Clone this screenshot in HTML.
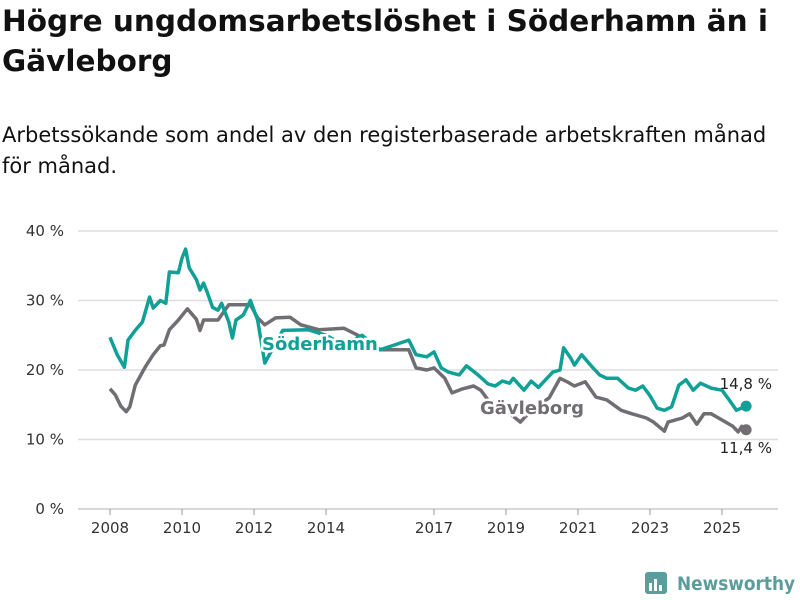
<!DOCTYPE html>
<html><head><meta charset="utf-8">
<style>
body{margin:0;width:800px;height:600px;background:#fff;font-family:"DejaVu Sans","Liberation Sans",sans-serif;color:#111;overflow:hidden;position:relative}
h1{position:absolute;left:2px;top:1px;margin:0;font-size:29.5px;line-height:40px;font-weight:bold;width:790px}
.sub{position:absolute;left:2px;top:120px;margin:0;font-size:21px;line-height:31px;width:790px}
svg{position:absolute;left:0;top:0}
</style></head><body>
<h1>Högre ungdomsarbetslöshet i Söderhamn än i Gävleborg</h1>
<p class="sub">Arbetssökande som andel av den registerbaserade arbetskraften månad för månad.</p>
<svg width="800" height="600">
<g id="grid"></g>
<g id="xt"></g>
<g id="lines"></g>
<g>
<rect x="645" y="572" width="22" height="22" rx="3" fill="#5a9d9b"/>
<rect x="649" y="583" width="3" height="8" fill="#fff"/><rect x="654" y="579" width="3" height="12" fill="#fff"/><rect x="659" y="585" width="3" height="6" fill="#fff"/>
<text x="677" y="590" font-size="19" font-weight="bold" fill="#5a9d9b" textLength="118" lengthAdjust="spacingAndGlyphs">Newsworthy</text>
</g>
</svg>
<script>
const yTicks=[0,10,20,30,40];
const xTickYears=[2008,2010,2012,2014,2017,2019,2021,2023,2025];
const sodX=[2008.0,2008.2,2008.4,2008.5,2008.7,2008.9,2009.1,2009.2,2009.4,2009.55,2009.65,2009.9,2010.0,2010.1,2010.2,2010.4,2010.5,2010.6,2010.7,2010.85,2011.0,2011.1,2011.3,2011.4,2011.5,2011.7,2011.9,2012.1,2012.3,2012.5,2012.8,2013.5,2014.0,2014.5,2015.0,2015.5,2015.9,2016.3,2016.5,2016.8,2017.0,2017.2,2017.4,2017.7,2017.9,2018.2,2018.5,2018.7,2018.9,2019.1,2019.2,2019.5,2019.7,2019.9,2020.3,2020.5,2020.6,2020.8,2020.9,2021.1,2021.4,2021.6,2021.8,2022.1,2022.4,2022.6,2022.8,2023.0,2023.2,2023.4,2023.6,2023.8,2024.0,2024.2,2024.4,2024.7,2025.0,2025.2,2025.4,2025.67];
const sodV=[24.7,22.2,20.4,24.3,25.7,26.9,30.5,28.9,30,29.6,34.1,34,36.1,37.4,34.7,33,31.5,32.5,31.2,29,28.6,29.6,26.9,24.6,27.2,27.9,30,27.2,21,22.9,25.7,25.8,25,23.6,25,22.9,23.6,24.3,22.2,21.9,22.6,20.3,19.7,19.3,20.6,19.4,18,17.7,18.4,18.1,18.8,17.1,18.4,17.5,19.7,20,23.2,21.7,20.7,22.2,20.4,19.3,18.8,18.8,17.4,17.1,17.7,16.3,14.5,14.2,14.7,17.8,18.6,17.1,18.1,17.4,17.1,15.7,14.2,14.8];
const gavX=[2008.0,2008.15,2008.3,2008.45,2008.55,2008.7,2008.9,2009.0,2009.2,2009.4,2009.5,2009.65,2009.9,2010.15,2010.4,2010.5,2010.6,2011.0,2011.3,2011.6,2011.9,2012.1,2012.3,2012.6,2013.0,2013.3,2013.8,2014.5,2015.0,2015.5,2016.0,2016.3,2016.5,2016.8,2017.0,2017.3,2017.5,2017.8,2018.1,2018.3,2018.5,2019.0,2019.4,2019.7,2020.2,2020.5,2020.7,2020.9,2021.2,2021.5,2021.8,2022.2,2022.5,2022.9,2023.1,2023.4,2023.5,2023.9,2024.1,2024.3,2024.5,2024.7,2025.0,2025.3,2025.45,2025.55,2025.67];
const gavV=[17.3,16.4,14.8,14,14.7,17.8,19.7,20.6,22.2,23.5,23.6,25.8,27.2,28.8,27.3,25.7,27.2,27.2,29.4,29.4,29.4,27.5,26.5,27.5,27.6,26.5,25.8,26,24.7,22.9,22.9,22.9,20.3,20,20.3,18.8,16.7,17.3,17.7,17.1,15.7,14.2,12.5,14.2,16,18.8,18.3,17.7,18.3,16.1,15.7,14.2,13.7,13.1,12.5,11.2,12.5,13.1,13.7,12.2,13.7,13.7,12.8,11.9,11.1,11.9,11.4];
const NS="http://www.w3.org/2000/svg";
const X=t=>110+(t-2008)*36;
const Y=v=>509-v*6.95;
function mk(tag,attrs,parent,txt){const e=document.createElementNS(NS,tag);for(const k in attrs)e.setAttribute(k,attrs[k]);if(txt!==undefined)e.textContent=txt;parent.appendChild(e);return e;}
const grid=document.getElementById('grid');
yTicks.forEach(v=>{
 const l=mk('line',{x1:78,x2:778,y1:Y(v),y2:Y(v),stroke:v===0?'#ccc':'#ddd','stroke-width':1.5},grid);
 
 
 const t=mk('text',{x:64,y:Y(v)+5,'text-anchor':'end','font-size':15,fill:'#333'},grid,v+' %');
 
 
});
const xt=document.getElementById('xt');
xTickYears.forEach(yr=>{
 const x=X(yr);
 mk('line',{x1:x,x2:x,y1:509,y2:515,stroke:'#999','stroke-width':1},xt);
 const t=mk('text',{x:x,y:533,'text-anchor':'middle','font-size':15,fill:'#333'},xt,String(yr));
 
 
});
const lines=document.getElementById('lines');
function series(xs,vs,color,name){
 const d=xs.map((x,i)=>(i?'L':'M')+X(x).toFixed(1)+','+Y(vs[i]).toFixed(1)).join('');
 const p=mk('path',{d:d,fill:'none',stroke:color,'stroke-width':3.5,'stroke-linejoin':'round'},lines);
 
 
 const n=xs.length-1;
 const c=mk('circle',{cx:X(xs[n]),cy:Y(vs[n]),r:5.5,fill:color},lines);
 
 
 return [X(xs[n]),Y(vs[n]),vs[n]];
}
const g=series(gavX,gavV,'#706d73','gavleborg');
const s=series(sodX,sodV,'#10a096','soderhamn');
function lab(x,y,txt,color,name){
 const t=mk('text',{x:x,y:y,'font-size':18,'font-weight':'bold',fill:color,stroke:'#fff','stroke-width':5,'paint-order':'stroke'},lines,txt);
 
 
}
lab(262,350,'Söderhamn','#10a096','soderhamn-label');
lab(480,414,'Gävleborg','#706d73','gavleborg-label');
const e1=mk('text',{x:772,y:s[1]-17,'text-anchor':'end','font-size':15,fill:'#222'},lines,s[2].toFixed(1).replace('.',',')+' %');


const e2=mk('text',{x:772,y:g[1]+23,'text-anchor':'end','font-size':15,fill:'#222'},lines,g[2].toFixed(1).replace('.',',')+' %');


</script>
</body></html>
